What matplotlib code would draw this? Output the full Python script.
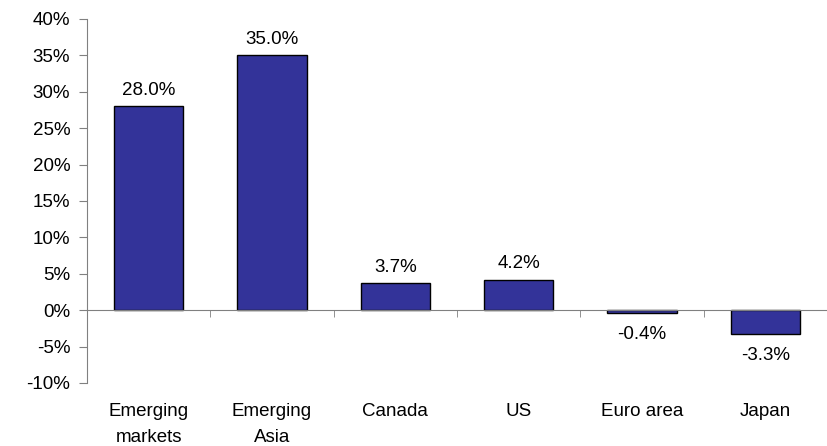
import matplotlib.pyplot as plt
from matplotlib.ticker import FuncFormatter, FixedLocator

regiones = ['Emerging\nmarkets', 'Emerging\nAsia', 'Canada', 'US', 'Euro area', 'Japan']
valores = [28.0, 35.0, 3.7, 4.2, -0.4, -3.3]

plt.rcParams['font.family'] = ['Liberation Sans', 'DejaVu Sans']
plt.rcParams['font.size'] = 13.5

gris = '#808080'

fig = plt.figure(figsize=(8.27, 4.46), dpi=100)
ax = fig.add_axes([0.1052, 0.1413, 0.8948, 0.8161])

x = list(range(len(valores)))
ax.bar(x, valores, width=0.56, color='#333399', edgecolor='black', linewidth=1)

for xi, v in zip(x, valores):
    if v >= 0:
        ax.text(xi, v + 1.0, f'{v:.1f}%', ha='center', va='bottom')
    else:
        ax.text(xi, v - 1.8, f'{v:.1f}%', ha='center', va='top')

ax.set_xlim(-0.5, len(valores) - 0.5)
ax.set_ylim(-10, 40)
ax.set_yticks(range(-10, 41, 5))
ax.yaxis.set_major_formatter(FuncFormatter(lambda v, p: f'{v:.0f}%'))

# eje x sobre la linea de cero
ax.spines['bottom'].set_position(('data', 0))
ax.spines['bottom'].set_color(gris)
ax.spines['left'].set_color(gris)
ax.spines['top'].set_visible(False)
ax.spines['right'].set_visible(False)

ax.set_xticks(x)
ax.set_xticklabels(regiones, linespacing=1.65)
ax.xaxis.set_minor_locator(FixedLocator([i + 0.5 for i in range(-1, len(valores))]))
ax.tick_params(axis='x', which='major', length=0, pad=67)
ax.tick_params(axis='x', which='minor', length=5, color=gris, direction='out')
ax.tick_params(axis='y', length=6, color=gris, direction='out', pad=6)

plt.savefig('out.png', dpi=100)
